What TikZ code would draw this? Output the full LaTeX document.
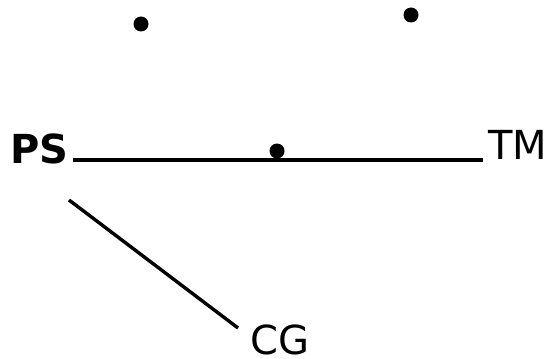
\documentclass[tikz,border=0pt]{standalone}
\usepackage{fontspec}
\setmainfont{DejaVu Sans}
\begin{document}
\begin{tikzpicture}[x=1pt,y=-1pt,
  lbl/.style={inner sep=0pt,anchor=base west,font=\fontsize{40}{48}\selectfont},
  dot/.style={circle,fill=black,inner sep=0pt,minimum size=15pt},
  edge/.style={line width=3.4pt}]
  \useasboundingbox (0,0) rectangle (545,358);
  % labels
  \node[lbl,font=\fontsize{40}{48}\selectfont\bfseries] (ps) at (10,163) {PS};
  \node[lbl] (tm) at (488,160) {TM};
  \node[lbl] (cg) at (250,354) {CG};
  % end points of the two links
  \coordinate (h1) at (73,160);
  \coordinate (h2) at (483,160);
  \coordinate (d1) at (69,200);
  \coordinate (d2) at (238,328);
  \draw[edge] (h1) -- (h2);
  \draw[edge] (d1) -- (d2);
  % dots
  \node[dot] (a) at (141,24) {};
  \node[dot] (b) at (411,15) {};
  \node[dot] (c) at (277,151) {};
\end{tikzpicture}
\end{document}
